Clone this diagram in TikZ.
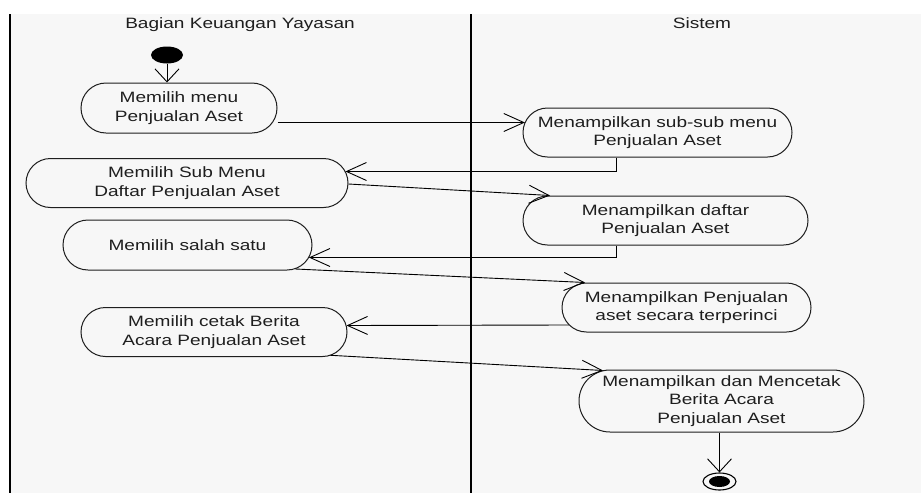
\documentclass[tikz,border=0pt]{standalone}
\usepackage{fontspec}
\setmainfont{Liberation Sans}[FakeStretch=1.27]
\usetikzlibrary{shapes.misc,shapes.geometric,arrows.meta,calc}
\definecolor{lanebg}{HTML}{F7F7F7}
\definecolor{ink}{HTML}{1E1E1E}
\begin{document}
\begin{tikzpicture}[x=1pt,y=-1pt,
  act/.style={rounded rectangle, draw=ink, line width=1pt, inner sep=0pt,
    align=center, text=ink, font=\fontsize{15}{18.3}\selectfont},
  lane/.style={line width=1.5pt, draw=black},
  flow/.style={line width=0.9pt, draw=black, -{Straight Barb[length=20pt,width=18pt,line width=0.9pt]}},
  vflow/.style={line width=0.9pt, draw=black, -{Straight Barb[length=13pt,width=24pt,line width=0.9pt]}},
  title/.style={anchor=base, text=ink, font=\fontsize{15}{18}\selectfont}]
\useasboundingbox (0,0) rectangle (922,493);
\fill[white] (0,0) rectangle (922,493);
\fill[lanebg] (9,14) rectangle (921,493);
\draw[lane] (10,14) -- (10,493);
\draw[lane] (471,14) -- (471,493);
\node[title] (t1) at (240,28) {Bagian Keuangan Yayasan};
\node[title] (t2) at (702,28) {Sistem};

\node[ellipse, fill=black, inner sep=0pt, minimum width=32pt, minimum height=17pt] (init) at (167,55) {};
\node[ellipse, draw=black, line width=1.1pt, inner sep=0pt, minimum width=33pt, minimum height=17pt] (fin) at (719.5,481.5) {};
\fill[black] (fin.center) ellipse [x radius=10.5pt, y radius=5.5pt];

\node[act, minimum width=196pt, minimum height=50pt] (n1) at (179,108) {Memilih menu\\Penjualan Aset};
\node[act, minimum width=322pt, minimum height=49pt] (n2) at (187,183) {Memilih Sub Menu\\Daftar Penjualan Aset};
\node[act, minimum width=249pt, minimum height=50pt] (n3) at (187.5,245) {Memilih salah satu};
\node[act, minimum width=266pt, minimum height=49pt] (n4) at (214,332) {Memilih cetak Berita\\Acara Penjualan Aset};
\node[act, minimum width=269pt, minimum height=49pt] (n5) at (657.5,132.5) {Menampilkan sub-sub menu\\Penjualan Aset};
\node[act, minimum width=285pt, minimum height=49pt] (n6) at (665.5,220.5) {Menampilkan daftar\\Penjualan Aset};
\node[act, minimum width=249pt, minimum height=49pt] (n7) at (686.5,307.5) {Menampilkan Penjualan\\aset secara terperinci};
\node[act, minimum width=285pt, minimum height=62pt] (n8) at (721.5,401) {Menampilkan dan Mencetak\\Berita Acara\\Penjualan Aset};

\draw[vflow] (init.south) -- ([xshift=-12pt]n1.north);
\draw[flow] ([yshift=-14.5pt]n1.east) -- ([shift={(2.4pt,10pt)}]n5.west);
\draw[flow] ([xshift=-41.5pt]n5.south) |- ([shift={(-3.1pt,11.5pt)}]n2.east);
\draw[flow] ([yshift=-1pt]n2.east) -- ([xshift=-115.5pt]n6.north);
\draw[flow] ([xshift=-49.5pt]n6.south) |- ([shift={(-3.6pt,-12.5pt)}]n3.east);
\draw[flow] ([shift={(-17pt,-24pt)}]n3.east) -- ([xshift=-101.5pt]n7.north);
\draw[flow] ([shift={(7.4pt,-17.5pt)}]n7.west) -- ([shift={(-1pt,6.5pt)}]n4.east);
\draw[flow] ([shift={(-17pt,-23.3pt)}]n4.east) -- ([shift={(-118.5pt,-1pt)}]n8.north);
\draw[vflow] (n8.south -| fin.north) -- (fin.north);
\end{tikzpicture}
\end{document}
